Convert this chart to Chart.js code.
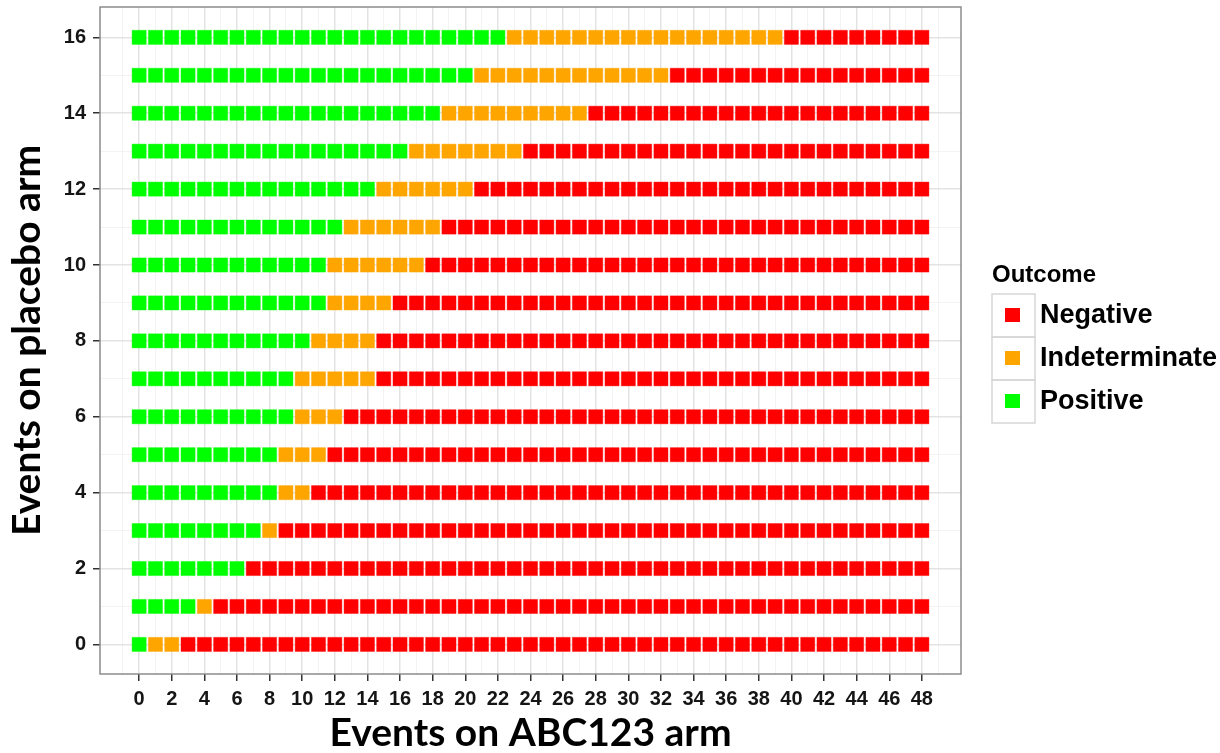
<!DOCTYPE html>
<html>
<head>
<meta charset="utf-8">
<title>Outcome by events on each arm</title>
<script src="https://cdn.jsdelivr.net/npm/chart.js@4.4.1/dist/chart.umd.min.js"></script>
<style>
  html, body { margin: 0; padding: 0; background: #fff; }
  canvas { display: block; }
</style>
</head>
<body>
<canvas id="outcomeChart" width="1220" height="753"></canvas>
<script>
// events on the ABC123 arm (x) and on the placebo arm (y)
const abcEvents = [0, 1, 2, 3, 4, 5, 6, 7, 8, 9, 10, 11, 12, 13, 14, 15, 16, 17, 18, 19, 20, 21, 22, 23, 24,
  25, 26, 27, 28, 29, 30, 31, 32, 33, 34, 35, 36, 37, 38, 39, 40, 41, 42, 43, 44, 45, 46, 47, 48]
const placeboEvents = [0, 1, 2, 3, 4, 5, 6, 7, 8, 9, 10, 11, 12, 13, 14, 15, 16]

// for each placebo row: last ABC123 count that is still Positive / still Indeterminate
const lastPositive = [0, 3, 6, 7, 8, 8, 9, 9, 10, 11, 11, 12, 14, 16, 18, 20, 22]
const lastIndeterminate = [2, 4, 6, 8, 10, 11, 12, 14, 14, 15, 17, 18, 20, 23, 27, 32, 39]

const xTickLabels = [0, 2, 4, 6, 8, 10, 12, 14, 16, 18, 20, 22, 24, 26, 28, 30, 32, 34, 36, 38, 40, 42, 44, 46, 48]
const yTickLabels = [0, 2, 4, 6, 8, 10, 12, 14, 16]

const outcomes = ["Negative", "Indeterminate", "Positive"]
const outcomeColors = ["#FF0000", "#FFA500", "#00FF00"]
const outcomeEdges = ["rgba(255,0,0,0.4)", "rgba(255,165,0,0.4)", "rgba(0,255,0,0.4)"]

// grid lines: minor ones sit between the labelled breaks
const xGrid = [-1, ...abcEvents, 49]
const yGrid = placeboEvents

const points = { Negative: [], Indeterminate: [], Positive: [] }
placeboEvents.forEach((p, row) => {
  abcEvents.forEach(a => {
    let outcome = "Negative"
    if (a <= lastPositive[row]) outcome = "Positive"
    else if (a <= lastIndeterminate[row]) outcome = "Indeterminate"
    points[outcome].push({ x: a, y: p })
  })
})

const tickFont = { family: '"Liberation Sans", Arial, sans-serif', size: 20, weight: 'bold' }
const titleFont = { family: 'Lato, "Open Sans", sans-serif', size: 39, weight: 'bold', lineHeight: 1 }

// panel border drawn on top, like ggplot's theme_bw
const panelBorder = {
  id: 'panelBorder',
  afterDatasetsDraw(chart) {
    const { ctx, chartArea: a } = chart
    ctx.save()
    ctx.strokeStyle = '#8c8c8c'
    ctx.lineWidth = 1.5
    ctx.strokeRect(a.left, a.top, a.right - a.left, a.bottom - a.top)
    ctx.restore()
  }
}

// boxed legend on the right
const outcomeLegend = {
  id: 'outcomeLegend',
  afterDraw(chart) {
    const c = chart.ctx
    c.save()
    c.textAlign = 'left'
    c.textBaseline = 'middle'
    c.fillStyle = '#000'
    c.font = 'bold 24px "Liberation Sans", Arial, sans-serif'
    c.fillText('Outcome', 992, 275)
    outcomes.forEach((name, i) => {
      const top = 294 + i * 43
      c.strokeStyle = '#d6d6d6'
      c.lineWidth = 1.5
      c.strokeRect(992, top, 43, 43)
      c.fillStyle = outcomeColors[i]
      c.fillRect(1005, top + 14, 15, 14)
      c.fillStyle = '#000'
      c.font = 'bold 27px "Liberation Sans", Arial, sans-serif'
      c.fillText(name, 1040, top + 22)
    })
    c.restore()
  }
}

const isMajor = (v, labels) => labels.includes(v)

new Chart(document.getElementById('outcomeChart'), {
  type: 'scatter',
  data: {
    datasets: outcomes.map((name, i) => ({
      label: name,
      data: points[name],
      pointStyle: 'rect',
      pointRadius: 10,
      pointHoverRadius: 10,
      borderWidth: 1,
      backgroundColor: outcomeColors[i],
      borderColor: outcomeEdges[i]
    }))
  },
  options: {
    responsive: false,
    animation: false,
    events: [],
    layout: {
      autoPadding: false,
      padding: { top: 7, right: 259, bottom: 0, left: 0 }
    },
    plugins: {
      legend: { display: false },
      tooltip: { enabled: false }
    },
    scales: {
      x: {
        type: 'linear',
        min: -2.4,
        max: 50.4,
        afterBuildTicks: scale => { scale.ticks = xGrid.map(v => ({ value: v })) },
        afterFit: scale => {
          scale.height = 79
          scale.paddingLeft = 0
          scale.paddingRight = 0
        },
        border: { display: false },
        grid: {
          color: ctx => isMajor(ctx.tick.value, xTickLabels) ? '#e3e3e3' : '#f3f3f3',
          lineWidth: ctx => isMajor(ctx.tick.value, xTickLabels) ? 1.5 : 1,
          tickLength: 7,
          tickWidth: 1.5,
          tickColor: ctx => isMajor(ctx.tick.value, xTickLabels) ? '#333' : 'transparent'
        },
        ticks: {
          autoSkip: false,
          maxRotation: 0,
          padding: 6,
          color: '#151515',
          font: tickFont,
          callback: v => isMajor(v, xTickLabels) ? String(v) : ''
        },
        title: {
          display: true,
          text: 'Events on ABC123 arm',
          color: '#000',
          font: titleFont,
          padding: { top: 0, bottom: 0 }
        }
      },
      y: {
        type: 'linear',
        min: -0.78,
        max: 16.8,
        afterBuildTicks: scale => { scale.ticks = yGrid.map(v => ({ value: v })) },
        afterFit: scale => {
          scale.width = 100
          scale.paddingTop = 0
          scale.paddingBottom = 0
        },
        border: { display: false },
        grid: {
          color: ctx => isMajor(ctx.tick.value, yTickLabels) ? '#e3e3e3' : '#f3f3f3',
          lineWidth: ctx => isMajor(ctx.tick.value, yTickLabels) ? 1.5 : 1,
          tickLength: 7,
          tickWidth: 1.5,
          tickColor: ctx => isMajor(ctx.tick.value, yTickLabels) ? '#333' : 'transparent'
        },
        ticks: {
          autoSkip: false,
          padding: 7,
          color: '#151515',
          font: tickFont,
          callback: v => isMajor(v, yTickLabels) ? String(v) : ''
        },
        title: {
          display: true,
          text: 'Events on placebo arm',
          color: '#000',
          font: titleFont,
          padding: { top: 8, bottom: 0 }
        }
      }
    }
  },
  plugins: [panelBorder, outcomeLegend]
})
</script>
</body>
</html>
